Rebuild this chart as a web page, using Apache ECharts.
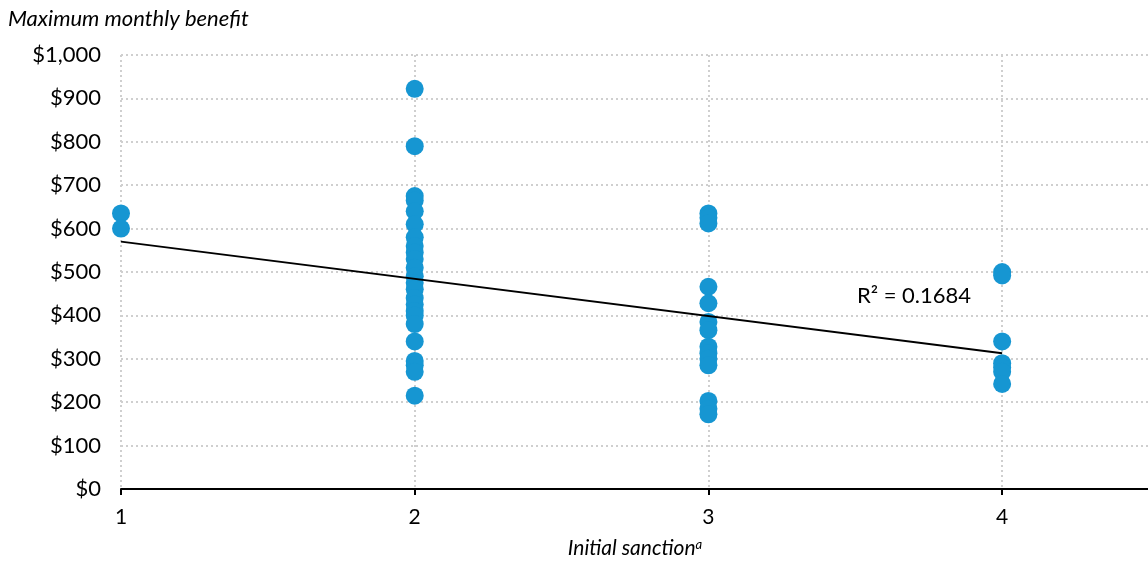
<!DOCTYPE html>
<html><head><meta charset="utf-8">
<script src="https://cdn.jsdelivr.net/npm/echarts@6/dist/echarts.min.js"></script>
<style>html,body{margin:0;padding:0;background:#fff}#c{width:1148px;height:561px}</style>
</head><body><div id="c"></div>
<script>
// Data
const sanction1 = [635, 600];
const sanction2 = [922, 790, 675, 665, 640, 610, 580, 560, 545, 530, 510, 490, 475, 460, 440, 425, 410, 400, 380, 340, 295, 285, 270, 215];
const sanction3 = [635, 625, 612, 466, 428, 385, 366, 328, 313, 300, 285, 203, 185, 172];
const sanction4 = [500, 492, 340, 290, 280, 270, 242];
const trendX = [1, 4];
const trendY = [570, 313];
const rSquaredLabel = 'R² = 0.1684';
const rSquaredPos = [3.7, 445];

const points = [];
[[1, sanction1], [2, sanction2], [3, sanction3], [4, sanction4]].forEach(([x, arr]) => arr.forEach(v => points.push([x, v])));

const font = 'Lato, "Noto Sans", sans-serif';
const chart = echarts.init(document.getElementById('c'));
chart.setOption({
  animation: false,
  textStyle: { fontFamily: font },
  grid: { left: 121, right: -1, top: 55, bottom: 72, containLabel: false, outerBoundsMode: 'none' },
  graphic: [{
    type: 'text', left: 8, top: 8,
    style: { text: 'Maximum monthly benefit', font: 'italic 22px ' + font, fill: '#000' }
  }],
  xAxis: {
    type: 'value', min: 1, max: 4.5, interval: 1,
    name: '{n|Initial sanction}{s|a}', nameLocation: 'middle', nameGap: 49,
    nameTextStyle: { rich: { n: { fontSize: 21, fontStyle: 'italic', fontFamily: font, color: '#000' },
      s: { fontSize: 13, fontStyle: 'italic', fontFamily: font, color: '#000', verticalAlign: 'top', padding: [0, 0, 6, 0] } } },
    axisLine: { show: true, onZero: false, lineStyle: { color: '#000', width: 2 } },
    axisTick: { show: true, length: 6, lineStyle: { color: '#000', width: 2 } },
    axisLabel: { fontSize: 21, color: '#000', margin: 18, fontFamily: font, showMaxLabel: false,
      formatter: v => (Number.isInteger(v) ? String(v) : '') },
    splitLine: { show: true, lineStyle: { color: '#cfcfcf', width: 2, type: [2, 3] } }
  },
  yAxis: {
    type: 'value', min: 0, max: 1000, interval: 100,
    axisLine: { show: false }, axisTick: { show: false },
    axisLabel: { fontSize: 22, color: '#000', margin: 20, fontFamily: font,
      formatter: v => '$' + v.toLocaleString('en-US') },
    splitLine: { show: true, lineStyle: { color: '#cfcfcf', width: 2, type: [2, 3] } }
  },
  series: [
    { type: 'scatter', data: points, symbolSize: 18, itemStyle: { color: '#1696d2', opacity: 1 }, z: 3 },
    { type: 'line', data: trendX.map((x, i) => [x, trendY[i]]), symbol: 'none', z: 4,
      lineStyle: { color: '#000', width: 2 },
      markPoint: { symbol: 'circle', symbolSize: 0, data: [{ coord: rSquaredPos }],
        label: { show: true, formatter: rSquaredLabel, fontSize: 22, color: '#000', fontFamily: font } } }
  ]
});
</script></body></html>
